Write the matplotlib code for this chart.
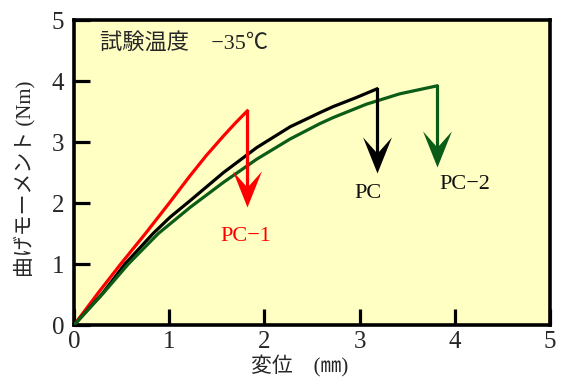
import matplotlib
matplotlib.use("Agg")
import matplotlib.pyplot as plt
from matplotlib.path import Path

# Load–displacement curves (displacement in mm, bending moment in Nm)
pc1_x = [0.0, 0.25, 0.49, 0.75, 1.01, 1.22, 1.39, 1.57, 1.70, 1.82]
pc1_y = [0.0, 0.52, 1.00, 1.50, 2.02, 2.45, 2.78, 3.10, 3.32, 3.51]

pc_x = [0.0, 0.30, 0.535, 0.83, 1.01, 1.22, 1.57, 1.92, 2.27, 2.58, 2.72, 2.95, 3.18]
pc_y = [0.0, 0.52, 1.00, 1.50, 1.77, 2.04, 2.50, 2.91, 3.25, 3.48, 3.58, 3.72, 3.87]

pc2_x = [0.0, 0.30, 0.57, 0.885, 1.08, 1.22, 1.57, 1.92, 2.27, 2.58, 2.72, 3.07, 3.42, 3.81]
pc2_y = [0.0, 0.51, 1.00, 1.50, 1.75, 1.93, 2.34, 2.72, 3.05, 3.30, 3.40, 3.62, 3.79, 3.92]

# Failure drop arrows: (x, start moment, arrow tip moment)
pc1_drop = (1.82, 3.51, 1.94)
pc_drop = (3.18, 3.87, 2.49)
pc2_drop = (3.81, 3.92, 2.59)

ticks = [0, 1, 2, 3, 4, 5]
tick_labels = ["0", "1", "2", "3", "4", "5"]

RED = "#ff0000"
BLACK = "#000000"
GREEN = "#0b5c17"
BG = "#ffffc4"
TEXT = "#262626"

SERIF = ["Liberation Serif", "DejaVu Serif"]
MIXED = ["Liberation Serif", "Noto Sans CJK JP", "DejaVu Sans"]

fig = plt.figure(figsize=(5.65, 3.78), dpi=100)
ax = fig.add_axes([0.131, 0.140, 0.8425, 0.807])
ax.set_facecolor(BG)

for s in ax.spines.values():
    s.set_linewidth(2.6)

lw = 2.3
ax.plot(pc1_x, pc1_y, color=RED, lw=lw, solid_joinstyle="round", zorder=3)
ax.plot(pc_x, pc_y, color=BLACK, lw=lw, solid_joinstyle="round", zorder=3)
ax.plot(pc2_x, pc2_y, color=GREEN, lw=lw, solid_joinstyle="round", zorder=3)

# notched arrowhead with its tip at the origin
head = Path([(0, 0), (-0.40, 1.0), (0, 0.55), (0.40, 1.0), (0, 0)],
            [Path.MOVETO, Path.LINETO, Path.LINETO, Path.LINETO, Path.CLOSEPOLY])

for (x, y0, y1), c in [(pc1_drop, RED), (pc_drop, BLACK), (pc2_drop, GREEN)]:
    ax.plot([x, x], [y0, y1 + 0.3], color=c, lw=lw, zorder=3)
    ax.plot([x], [y1], marker=head, markersize=52, color=c,
            markeredgewidth=0, zorder=4)

ax.set_xlim(0, 5)
ax.set_ylim(0, 5)
ax.set_xticks(ticks)
ax.set_yticks(ticks)
ax.set_xticklabels(tick_labels, fontsize=18, family=SERIF)
ax.set_yticklabels(tick_labels, fontsize=18, family=SERIF)
ax.tick_params(axis="both", direction="in", length=11.5, width=2.3,
               color="black", labelcolor=TEXT)
ax.tick_params(axis="x", pad=4)
ax.tick_params(axis="y", pad=7)
ax.tick_params(top=False, right=False)

ax.text(0.27, 4.62, "試験温度　−35℃", fontsize=16, family=MIXED,
        color=TEXT, ha="left", va="center")

ax.text(1.80, 1.46, "PC−1", fontsize=16, family=SERIF, color=RED,
        ha="center", va="center")
ax.text(3.09, 2.16, "PC", fontsize=16, family=SERIF, color="#111111",
        ha="center", va="center")
ax.text(4.10, 2.30, "PC−2", fontsize=16, family=SERIF, color="#111111",
        ha="center", va="center")

fig.text(0.044, 0.528, "曲げモーメント (Nm)", rotation=90, fontsize=15,
         family=MIXED, color=TEXT, ha="center", va="center")
fig.text(0.53, 0.031, "変位　(㎜)", fontsize=15, family=MIXED,
         color=TEXT, ha="center", va="center")

fig.savefig("out.png", dpi=100, facecolor="white")
